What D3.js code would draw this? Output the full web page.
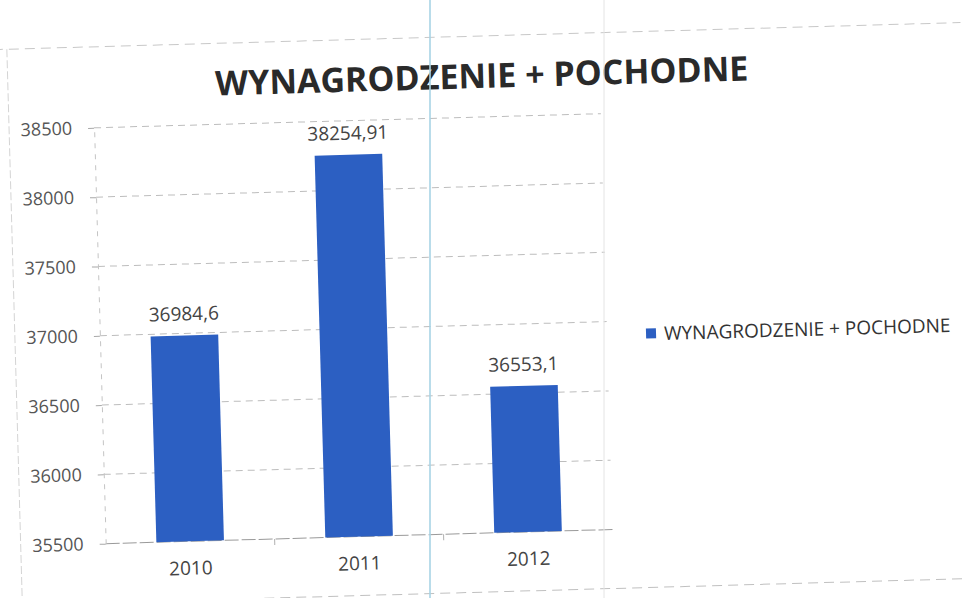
<!DOCTYPE html>
<html>
<head>
<meta charset="utf-8">
<script src="https://cdn.jsdelivr.net/npm/d3@7"></script>
<style>
  body { margin: 0; background: #fff; }
  svg { display: block; }
</style>
</head>
<body>
<svg id="chart" width="968" height="598"></svg>
<script>
// Dane wykresu
var years = ['2010', '2011', '2012'];
var values = [36984.6, 38254.91, 36553.1];
var valueLabels = ['36984,6', '38254,91', '36553,1'];
var yTicks = [35500, 36000, 36500, 37000, 37500, 38000, 38500];
var seriesName = 'WYNAGRODZENIE + POCHODNE';

var W = 968, H = 598;
var margin = { top: 117, left: 99, right: 362, bottom: 65 };
var plotW = W - margin.left - margin.right,
    plotH = H - margin.top - margin.bottom;
var font = "'Open Sans', 'Liberation Sans', sans-serif";
var barColor = '#2c5fc2';

var svg = d3.select('#chart');

// cały skan lekko obrócony
var root = svg.append('g')
  .attr('transform', 'rotate(-1.6,' + (W / 2) + ',' + (H / 2) + ')');

// ramka wykresu (blada)
root.append('line')
  .attr('x1', 0).attr('x2', W).attr('y1', 36).attr('y2', 36)
  .attr('stroke', '#c8c8c8').attr('stroke-dasharray', '10,6');
root.append('line')
  .attr('x1', 14).attr('x2', 14).attr('y1', 36).attr('y2', H)
  .attr('stroke', '#d4d4d4').attr('stroke-dasharray', '8,3');
root.append('line')
  .attr('x1', 0).attr('x2', W).attr('y1', 592).attr('y2', 592)
  .attr('stroke', '#c0c0c0').attr('stroke-dasharray', '10,6');

var x = d3.scaleBand().domain(years).range([0, plotW]).paddingInner(0.6).paddingOuter(0.3);
var y = d3.scaleLinear().domain([35500, 38500]).range([plotH, 0]);

var g = root.append('g').attr('transform', 'translate(' + margin.left + ',' + margin.top + ')');

// linie siatki
g.selectAll('.grid')
  .data(yTicks)
  .enter()
  .append('line')
  .attr('x1', 0).attr('x2', plotW)
  .attr('y1', function (d) { return y(d); })
  .attr('y2', function (d) { return y(d); })
  .attr('stroke', function (d) { return d === 35500 ? '#9a9a9a' : '#bdbdbd'; })
  .attr('stroke-dasharray', function (d) { return d === 35500 ? '14,3' : '7,5'; });

// oś Y
var yAxis = g.append('g')
  .call(d3.axisLeft(y).tickValues(yTicks).tickSizeInner(6).tickSizeOuter(0).tickPadding(16).tickFormat(d3.format('d')));
yAxis.select('.domain').attr('stroke', '#c4c4c4').attr('stroke-dasharray', '5,6');
yAxis.selectAll('.tick line').attr('stroke', '#a8a8a8');
yAxis.selectAll('text').attr('font-family', font).attr('font-size', 18).attr('fill', '#555');

// oś X (znaczniki między kategoriami)
var xAxis = g.append('g')
  .attr('transform', 'translate(0,' + plotH + ')')
  .call(d3.axisBottom(x).tickSize(0).tickPadding(20));
xAxis.select('.domain').remove();
xAxis.selectAll('text').attr('font-family', font).attr('font-size', 19).attr('fill', '#444');
g.selectAll('.xsep')
  .data(years.slice(1))
  .enter()
  .append('line')
  .attr('x1', function (d) { return x(d) - x.step() * x.paddingInner() / 2; })
  .attr('x2', function (d) { return x(d) - x.step() * x.paddingInner() / 2; })
  .attr('y1', plotH).attr('y2', plotH + 6)
  .attr('stroke', '#b0b0b0');

// słupki
g.selectAll('.bar')
  .data(values)
  .enter()
  .append('rect')
  .attr('x', function (d, i) { return x(years[i]); })
  .attr('y', function (d) { return y(d); })
  .attr('width', x.bandwidth())
  .attr('height', function (d) { return plotH - y(d); })
  .attr('fill', barColor);

// etykiety wartości
g.selectAll('.lbl')
  .data(values)
  .enter()
  .append('text')
  .attr('x', function (d, i) { return x(years[i]) + x.bandwidth() / 2; })
  .attr('y', function (d) { return y(d) - 15; })
  .attr('text-anchor', 'middle')
  .attr('font-family', font).attr('font-size', 19).attr('fill', '#444')
  .text(function (d, i) { return valueLabels[i]; });

// tytuł
root.append('text')
  .attr('x', 488).attr('y', 88)
  .attr('text-anchor', 'middle')
  .attr('font-family', font).attr('font-weight', 'bold').attr('font-size', 34)
  .attr('fill', '#2a2a2a')
  .text(seriesName);

// legenda
var legend = root.append('g').attr('transform', 'translate(645,345)');
legend.append('rect').attr('x', 0).attr('y', -12).attr('width', 10).attr('height', 10).attr('fill', barColor);
legend.append('text')
  .attr('x', 18).attr('y', 0)
  .attr('font-family', font).attr('font-size', 19).attr('fill', '#333')
  .text(seriesName);

// artefakty skanu: pionowe linie
svg.append('line').attr('x1', 430).attr('x2', 430).attr('y1', 0).attr('y2', H)
  .attr('stroke', '#a8d4e6').attr('stroke-width', 2).attr('opacity', 0.8);
svg.append('line').attr('x1', 604).attr('x2', 604).attr('y1', 0).attr('y2', H)
  .attr('stroke', '#e4e4e4').attr('stroke-width', 1);
</script>
</body>
</html>
